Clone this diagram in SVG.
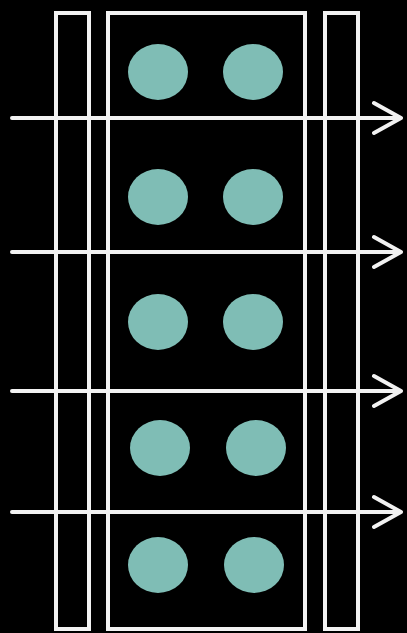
<svg xmlns="http://www.w3.org/2000/svg" width="407" height="633" viewBox="0 0 407 633">
<style>
.frame{fill:none;stroke:#f2f2f2;stroke-width:4}
.dot{fill:#7fbdb5}
.arr{fill:none;stroke:#f2f2f2;stroke-width:4;stroke-linecap:round;stroke-linejoin:round}
</style>
<rect width="407" height="633" fill="#000"/>
<g id="frames">
<rect id="left" class="frame" x="56" y="13" width="33" height="616"/>
<rect id="middle" class="frame" x="108" y="13" width="197" height="616"/>
<rect id="right" class="frame" x="325" y="13" width="33" height="616"/>
</g>
<g id="dots">
<ellipse class="dot" cx="158" cy="72" rx="30" ry="28"/>
<ellipse class="dot" cx="253" cy="72" rx="30" ry="28"/>
<ellipse class="dot" cx="158" cy="197" rx="30" ry="28"/>
<ellipse class="dot" cx="253" cy="197" rx="30" ry="28"/>
<ellipse class="dot" cx="158" cy="322" rx="30" ry="28"/>
<ellipse class="dot" cx="253" cy="322" rx="30" ry="28"/>
<ellipse class="dot" cx="160" cy="448" rx="30" ry="28"/>
<ellipse class="dot" cx="256" cy="448" rx="30" ry="28"/>
<ellipse class="dot" cx="158" cy="565" rx="30" ry="28"/>
<ellipse class="dot" cx="254" cy="565" rx="30" ry="28"/>
</g>
<g id="connectors">
<path class="arr" d="M12 118H401M374 103L401 118L374 133"/>
<path class="arr" d="M12 252H401M374 237L401 252L374 267"/>
<path class="arr" d="M12 391H401M374 376L401 391L374 406"/>
<path class="arr" d="M12 512H401M374 497L401 512L374 527"/>
</g>
</svg>
